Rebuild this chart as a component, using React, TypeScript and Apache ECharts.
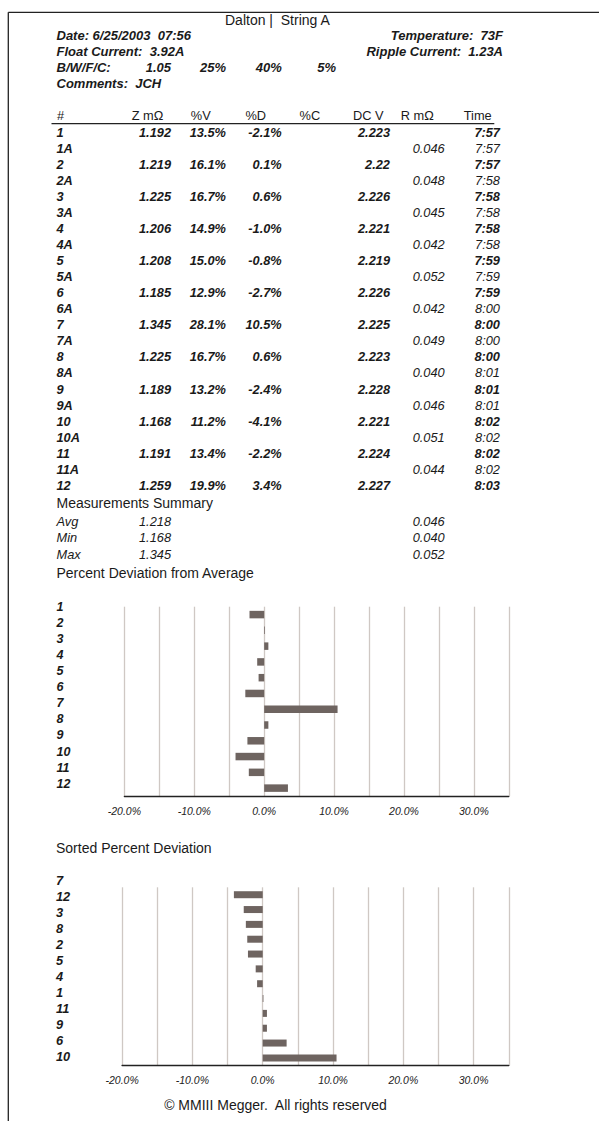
import React, { useEffect, useRef } from "react";
import * as echarts from "echarts";

// ---------- data ----------
const cells = ["1", "2", "3", "4", "5", "6", "7", "8", "9", "10", "11", "12"];
const zVals = [1.192, 1.219, 1.225, 1.206, 1.208, 1.185, 1.345, 1.225, 1.189, 1.168, 1.191, 1.259];
const pctV = [13.5, 16.1, 16.7, 14.9, 15.0, 12.9, 28.1, 16.7, 13.2, 11.2, 13.4, 19.9];
const pctD = [-2.1, 0.1, 0.6, -1.0, -0.8, -2.7, 10.5, 0.6, -2.4, -4.1, -2.2, 3.4];
const dcV = [2.223, 2.22, 2.226, 2.221, 2.219, 2.226, 2.225, 2.223, 2.228, 2.221, 2.224, 2.227];
const cellTimes = ["7:57", "7:57", "7:58", "7:58", "7:59", "7:59", "8:00", "8:00", "8:01", "8:02", "8:02", "8:03"];
const strapLabels = ["1A", "2A", "3A", "4A", "5A", "6A", "7A", "8A", "9A", "10A", "11A"];
const strapR = [0.046, 0.048, 0.045, 0.042, 0.052, 0.042, 0.049, 0.04, 0.046, 0.051, 0.044];
const strapTimes = ["7:57", "7:58", "7:58", "7:58", "7:59", "8:00", "8:00", "8:01", "8:01", "8:02", "8:02"];
const summaryNames = ["Avg", "Min", "Max"];
const summaryZ = [1.218, 1.168, 1.345];
const summaryR = [0.046, 0.04, 0.052];
const sortedLabels = ["7", "12", "3", "8", "2", "5", "4", "1", "11", "9", "6", "10"];
const sortedVals = [-4.1, -2.7, -2.4, -2.2, -2.1, -1.0, -0.8, 0.1, 0.6, 0.6, 3.4, 10.5];
const headers = ["#", "Z m\u03a9", "%V", "%D", "%C", "DC V", "R m\u03a9", "Time"];
const bwfc = ["1.05", "25%", "40%", "5%"];

const FONT = '"Liberation Sans", Arial, sans-serif';
const INK = "#1a1a1a";
const BAR = "#6e6460";
const GRIDC = "#cfc8c4";
const TS = 12.8; // table font size

function txt(text: string, x: number, y: number, o: any = {}) {
  return {
    type: "text",
    x,
    y,
    silent: true,
    style: {
      text,
      fill: o.fill || INK,
      fontFamily: FONT,
      fontSize: o.size || TS,
      fontStyle: o.italic === false ? "normal" : "italic",
      fontWeight: o.bold ? "bold" : "normal",
      textAlign: o.align || "left",
      align: o.align || "left",
      textVerticalAlign: "middle",
      verticalAlign: "middle",
    },
  };
}

export default function App() {
  const ref = useRef<HTMLDivElement>(null);
  useEffect(() => {
    if (!ref.current) return;
    const chart = echarts.init(ref.current, undefined, { renderer: "svg" });

    const colLeft = 56.5;
    const colZ = 171;
    const colV = 226;
    const colD = 281.7;
    const colC = 336;
    const colDC = 390;
    const colR = 444.7;
    const colT = 500;

    const g: any[] = [];
    // border
    g.push({ type: "line", silent: true, shape: { x1: 8.3, y1: 12.3, x2: 599, y2: 12.3 }, style: { stroke: "#222", lineWidth: 1.3 } });
    g.push({ type: "line", silent: true, shape: { x1: 8.3, y1: 12.3, x2: 8.3, y2: 1121 }, style: { stroke: "#222", lineWidth: 1.3 } });

    // header
    g.push(txt("Dalton |  String A", 225, 20, { italic: false, size: 14 }));
    g.push(txt("Date: 6/25/2003  07:56", colLeft, 35.5, { bold: true, size: 13 }));
    g.push(txt("Temperature:  73F", 503, 35.5, { bold: true, align: "right", size: 13 }));
    g.push(txt("Float Current:  3.92A", colLeft, 51.7, { bold: true, size: 13 }));
    g.push(txt("Ripple Current:  1.23A", 503, 51.7, { bold: true, align: "right", size: 13 }));
    g.push(txt("B/W/F/C:", colLeft, 67.7, { bold: true, size: 13 }));
    [colZ, colV, colD, colC].forEach((x, i) => g.push(txt(bwfc[i], x, 67.7, { bold: true, align: "right", size: 13 })));
    g.push(txt("Comments:  JCH", colLeft, 83.3, { bold: true, size: 13 }));

    // table header
    const hx = [57, 131.7, 190.8, 245.4, 299.6, 353, 400.8, 463.7];
    headers.forEach((h, i) => g.push(txt(h, hx[i], 115.7, { italic: false })));
    g.push({ type: "line", silent: true, shape: { x1: 51.5, y1: 123.6, x2: 494.3, y2: 123.6 }, style: { stroke: "#222", lineWidth: 1.2 } });

    // rows
    const row0 = 132.2;
    const step = 16.05;
    cells.forEach((c, i) => {
      const y = row0 + step * 2 * i;
      g.push(txt(c, colLeft, y, { bold: true }));
      g.push(txt(zVals[i].toFixed(3), colZ, y, { bold: true, align: "right" }));
      g.push(txt(pctV[i].toFixed(1) + "%", colV, y, { bold: true, align: "right" }));
      g.push(txt(pctD[i].toFixed(1) + "%", colD, y, { bold: true, align: "right" }));
      g.push(txt(String(dcV[i]), colDC, y, { bold: true, align: "right" }));
      g.push(txt(cellTimes[i], colT, y, { bold: true, align: "right" }));
      if (i < strapLabels.length) {
        const ya = y + step;
        g.push(txt(strapLabels[i], colLeft, ya, { bold: true }));
        g.push(txt(strapR[i].toFixed(3), colR, ya, { align: "right" }));
        g.push(txt(strapTimes[i], colT, ya, { align: "right" }));
      }
    });

    // summary
    g.push(txt("Measurements Summary", colLeft, 503.3, { italic: false, size: 14 }));
    const sy = [521.7, 537.7, 554];
    summaryNames.forEach((n, i) => {
      g.push(txt(n, colLeft, sy[i], {}));
      g.push(txt(summaryZ[i].toFixed(3), colZ, sy[i], { align: "right" }));
      g.push(txt(summaryR[i].toFixed(3), colR, sy[i], { align: "right" }));
    });
    g.push(txt("Percent Deviation from Average", colLeft, 573.3, { italic: false, size: 14 }));
    g.push(txt("Sorted Percent Deviation", 56, 847.7, { italic: false, size: 14 }));
    g.push(txt("\u00a9 MMIII Megger.  All rights reserved", 275.5, 1105, { italic: false, size: 14, align: "center" }));

    const tickFmt = (v: number) => (Math.round(v) % 10 === 0 ? v.toFixed(1) + "%" : "");

    const valueAxis = (gridIndex: number) => ({
      type: "value",
      gridIndex,
      min: -20,
      max: 35,
      interval: 5,
      axisLine: { show: true, onZero: false, lineStyle: { color: "#222", width: 1.4 } },
      axisTick: { show: false },
      splitLine: { show: true, lineStyle: { color: GRIDC, width: 1.3 } },
      axisLabel: {
        formatter: tickFmt,
        fontFamily: FONT,
        fontStyle: "italic",
        fontSize: 10.5,
        color: "#222",
        margin: 9,
        showMinLabel: true,
        showMaxLabel: true,
      },
    });
    const hiddenX = (gridIndex: number) => ({ type: "value", gridIndex, show: false });
    const barCat = (gridIndex: number, data: string[]) => ({
      type: "category",
      gridIndex,
      data,
      inverse: true,
      axisLine: { show: false },
      axisTick: { show: false },
      axisLabel: { show: false },
      splitLine: { show: false },
    });
    const labelCat = (gridIndex: number, data: string[], margin: number, size: number) => ({
      type: "category",
      gridIndex,
      data,
      inverse: true,
      axisLine: { show: false },
      axisTick: { show: false },
      splitLine: { show: false },
      axisLabel: {
        align: "left",
        margin,
        fontFamily: FONT,
        fontStyle: "italic",
        fontWeight: "bold",
        fontSize: size,
        color: INK,
        interval: 0,
      },
    });

    chart.setOption({
      animation: false,
      backgroundColor: "#ffffff",
      grid: [
        { left: 124.4, top: 606.7, width: 384.4, height: 189.3 },
        { left: 124.4, top: 598.6, width: 384.4, height: 193.2 },
        { left: 122.1, top: 887.3, width: 386.7, height: 178 },
        { left: 122.1, top: 872, width: 386.7, height: 192 },
      ],
      xAxis: [valueAxis(0), hiddenX(1), valueAxis(2), hiddenX(3)],
      yAxis: [
        barCat(0, cells),
        labelCat(1, cells, 124.4 - 56.5, 12.5),
        barCat(2, sortedLabels),
        labelCat(3, sortedLabels, 122.1 - 56, 12.8),
      ],
      series: [
        {
          type: "bar",
          xAxisIndex: 0,
          yAxisIndex: 0,
          data: pctD,
          barWidth: 7.5,
          itemStyle: { color: BAR },
          silent: true,
        },
        {
          type: "bar",
          xAxisIndex: 2,
          yAxisIndex: 2,
          data: sortedVals,
          barWidth: 7,
          itemStyle: { color: BAR },
          silent: true,
        },
      ],
      graphic: g,
    });
    return () => chart.dispose();
  }, []);

  return (
    <div
      ref={ref}
      style={{ position: "absolute", left: 0, top: 0, width: 599, height: 1121, background: "#fff" }}
    />
  );
}
